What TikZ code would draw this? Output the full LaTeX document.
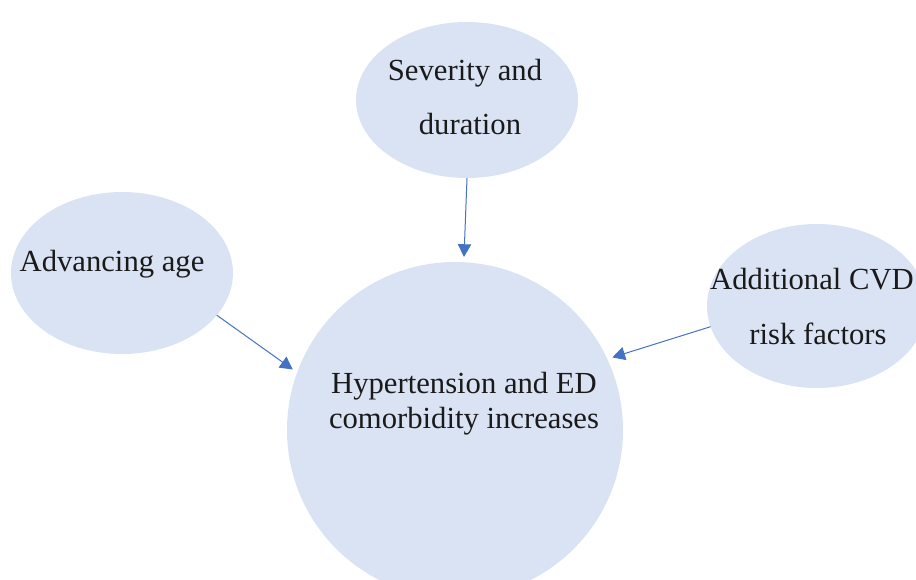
\documentclass[tikz,border=0pt]{standalone}
\usepackage{fontspec}
\setmainfont{Liberation Serif}
\usetikzlibrary{arrows.meta,shapes.geometric}
\definecolor{bubble}{HTML}{DAE3F3}
\definecolor{link}{HTML}{4472C4}
\definecolor{ink}{HTML}{1A1A1A}
\begin{document}
\begin{tikzpicture}[x=0.75pt,y=-0.75pt,
  bubble/.style={ellipse,fill=bubble,draw=none,inner sep=0pt,outer sep=0pt},
  label/.style={anchor=base,inner sep=0pt,text=ink,font=\fontsize{23}{28}\selectfont},
  arr/.style={draw=link,line width=0.75pt,-{Triangle[length=9.5pt,width=10pt]}}]
\useasboundingbox (0,0) rectangle (916,580);
\clip (0,0) rectangle (916,580);

% bubbles
\node[bubble,minimum width=166.5pt,minimum height=117pt] (sev) at (467,100) {};
\node[bubble,minimum width=166.5pt,minimum height=121.5pt] (age) at (122,273) {};
\node[bubble,minimum width=165pt,minimum height=123pt] (cvd) at (817,306) {};
\node[bubble,circle,minimum size=252pt] (core) at (455,430) {};

% texts
\node[label] (sevA) at (465,81) {Severity and};
\node[label] (sevB) at (470,135) {duration};
\node[label] (ageA) at (112,272) {Advancing age};
\node[label] (cvdA) at (812,290) {Additional CVD};
\node[label] (cvdB) at (818,345) {risk factors};
\node[label] (coreA) at (464,393) {Hypertension and ED};
\node[label] (coreB) at (464,428) {comorbidity increases};

% connectors
\draw[arr,shorten >=4pt] (sev.south) -- (core.87);
\draw[arr,shorten >=4pt] (age.-24) -- (core.160);
\draw[arr,shorten >=4pt] (cvd.191) -- (core.25);
\end{tikzpicture}
\end{document}
